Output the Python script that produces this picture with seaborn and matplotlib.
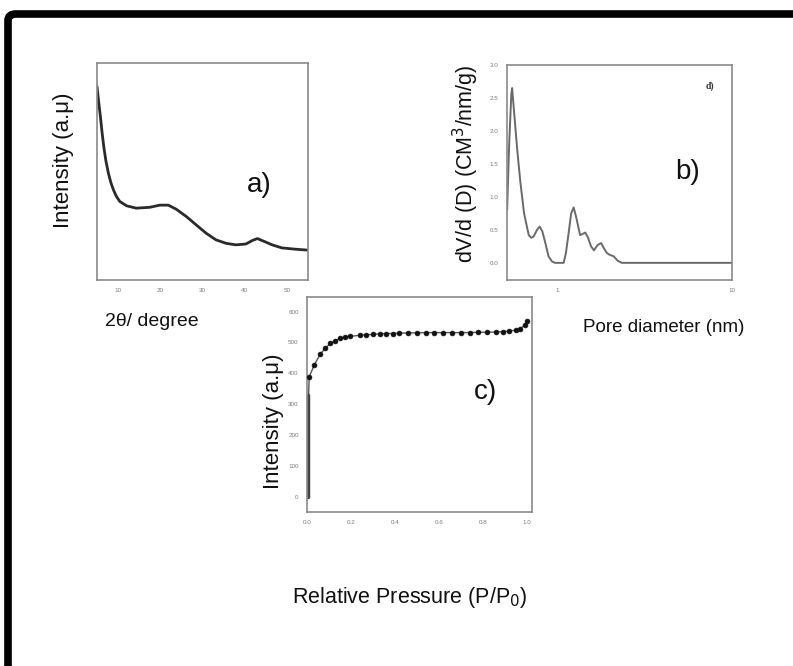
import numpy as np
import pandas as pd
import matplotlib
matplotlib.use("Agg")
import matplotlib.pyplot as plt
import seaborn as sns
from matplotlib.patches import FancyBboxPatch
from matplotlib.ticker import FixedLocator, NullFormatter

# ---------------- data ----------------
# a) XRD pattern
xrd_2theta = [5.0, 5.4, 5.8, 6.2, 6.6, 7.1, 7.7, 8.3, 8.9, 9.6, 10.4, 12.0, 14.3, 17.5, 19.9,
              21.9, 23.8, 26.2, 28.5, 30.9, 33.2, 35.6, 37.9, 40.3, 41.8, 43.0, 44.6, 46.5,
              48.8, 52.0, 54.7]
xrd_intensity = [89.2, 82.0, 75.4, 68.0, 61.5, 55.0, 49.2, 44.8, 41.5, 38.5, 36.2, 34.2, 33.1,
                 33.5, 34.5, 34.5, 32.6, 29.2, 25.4, 21.5, 18.5, 16.9, 16.2, 16.6, 18.2, 19.1,
                 17.8, 16.2, 14.8, 14.2, 13.8]
xrd_ticks = [10, 20, 30, 40, 50]

# b) pore size distribution
pore_d = [0.516, 0.53, 0.545, 0.551, 0.565, 0.59, 0.615, 0.645, 0.686, 0.71, 0.732, 0.765,
          0.792, 0.82, 0.854, 0.89, 0.933, 0.97, 1.087, 1.12, 1.16, 1.20, 1.24, 1.28, 1.35,
          1.40, 1.445, 1.50, 1.56, 1.62, 1.70, 1.78, 1.85, 1.92, 2.0, 2.10, 2.22, 2.34, 10.0]
pore_dv = [0.80, 1.80, 2.55, 2.65, 2.30, 1.70, 1.21, 0.75, 0.42, 0.38, 0.40, 0.50,
           0.55, 0.48, 0.30, 0.10, 0.02, 0.0, 0.0, 0.15, 0.45, 0.75, 0.84, 0.70, 0.42,
           0.44, 0.46, 0.38, 0.25, 0.19, 0.27, 0.30, 0.22, 0.15, 0.12, 0.10, 0.03, 0.0, 0.0]
pore_yticks = [0.0, 0.5, 1.0, 1.5, 2.0, 2.5, 3.0]

# c) N2 isotherm
p_rel = [0.0, 0.0, 0.01, 0.033, 0.06, 0.083, 0.106, 0.129, 0.152, 0.174, 0.197, 0.24,
         0.27, 0.30, 0.33, 0.36, 0.39, 0.42, 0.46, 0.50, 0.54, 0.58, 0.62, 0.66, 0.70,
         0.74, 0.78, 0.82, 0.86, 0.89, 0.92, 0.95, 0.97, 0.99, 1.0]
volume = [0, 330, 389, 427, 462, 481, 497, 506, 514, 518, 520, 523,
          525, 526, 528, 529, 529, 530, 531, 531, 532, 532, 532, 532, 532,
          532, 533, 533, 534, 535, 537, 540, 545, 555, 568]
iso_xticks = [0.0, 0.2, 0.4, 0.6, 0.8, 1.0]
iso_yticks = [0, 100, 200, 300, 400, 500, 600]

# ---------------- style ----------------
sns.set_style("white")
plt.rcParams['font.family'] = ['Liberation Sans', 'DejaVu Sans']

W, H = 793, 666
fig = plt.figure(figsize=(W / 100, H / 100), dpi=100)

def box(l, t, r, b):
    return [l / W, 1 - b / H, (r - l) / W, (b - t) / H]

spine_c = "#8a8a8a"
tick_c = "#8a8a8a"

def style_ax(ax):
    for s in ax.spines.values():
        s.set_color(spine_c)
        s.set_linewidth(1.2)
    ax.tick_params(colors=tick_c, labelcolor="#7a7a7a", labelsize=4.5,
                   length=2.5, width=0.8, direction="out")
    ax.set_xlabel("")
    ax.set_ylabel("")

# ---- a) ----
axa = fig.add_axes(box(97, 63, 308, 280))
sns.lineplot(x=xrd_2theta, y=xrd_intensity, ax=axa, color="#2a2a2a", linewidth=2.0)
axa.set_xlim(5, 55)
axa.set_ylim(0, 100)
axa.set_xticks(xrd_ticks)
axa.xaxis.set_minor_locator(FixedLocator([15, 25, 35, 45]))
axa.set_yticks([])
style_ax(axa)
axa.tick_params(axis="x", which="minor", length=2, color=tick_c)
axa.xaxis.set_minor_formatter(NullFormatter())

# ---- b) ----
axb = fig.add_axes(box(507, 65, 732, 280))
sns.lineplot(x=pore_d, y=pore_dv, ax=axb, color="#6a6a6a", linewidth=1.4)
axb.set_xscale("log")
axb.set_xlim(0.515, 10)
axb.set_ylim(-0.26, 3.0)
axb.set_yticks(pore_yticks)
axb.set_yticklabels([f"{v:.1f}" for v in pore_yticks])
axb.set_xticks([1, 10])
axb.set_xticklabels(["1", "10"])
axb.xaxis.set_minor_locator(FixedLocator([0.6, 0.7, 0.8, 0.9, 2, 3, 4, 5, 6, 7, 8, 9]))
axb.xaxis.set_minor_formatter(NullFormatter())
style_ax(axb)
axb.tick_params(axis="x", which="minor", length=2, color=tick_c)
axb.text(0.9, 0.9, "d)", transform=axb.transAxes, fontsize=7, fontweight="bold",
         family="Liberation Serif", color="#333333", ha="center", va="center")

# ---- c) ----
axc = fig.add_axes(box(307, 297, 532, 512))
sns.lineplot(x=p_rel, y=volume, ax=axc, color="#555555", linewidth=1.0)
axc.plot([0.003, 0.003], [0, 330], color="#444444", linewidth=2.5)
sns.scatterplot(x=p_rel[2:], y=volume[2:], ax=axc, color="#111111", s=12,
                edgecolor="#111111", linewidth=0.5, zorder=3)
axc.set_xlim(0, 1.024)
axc.set_ylim(-48, 647)
axc.set_xticks(iso_xticks)
axc.set_xticklabels([f"{v:.1f}" for v in iso_xticks])
axc.set_yticks(iso_yticks)
axc.xaxis.set_minor_locator(FixedLocator([0.1, 0.3, 0.5, 0.7, 0.9]))
axc.yaxis.set_minor_locator(FixedLocator([50, 150, 250, 350, 450, 550]))
axc.xaxis.set_minor_formatter(NullFormatter())
axc.yaxis.set_minor_formatter(NullFormatter())
style_ax(axc)
axc.tick_params(which="minor", length=2, color=tick_c)

# ---- texts ----
def ftext(x, y, s, **kw):
    fig.text(x / W, 1 - y / H, s, **kw)

base = dict(color="#111111", ha="center", va="center")
ftext(64, 160, "Intensity (a.μ)", rotation=90, fontsize=16, **base)
ftext(152, 322, "2θ/ degree", fontsize=14, **base)
ftext(259, 185, "a)", fontsize=20, **base)
ftext(466, 164, "dV/d (D) (CM$^3$/nm/g)", rotation=90, fontsize=15.5, **base)
ftext(664, 327, "Pore diameter (nm)", fontsize=13.5, **base)
ftext(688, 172, "b)", fontsize=20, **base)
ftext(273, 421, "Intensity (a.μ)", rotation=90, fontsize=16, **base)
ftext(486, 392, "c)", fontsize=20, **base)
ftext(410, 598, "Relative Pressure (P/P$_0$)", fontsize=15.5, **base)

# ---- thick border ----
border = FancyBboxPatch((8 / W, -0.2), 1.2, 1 - 14 / H + 0.2,
                        boxstyle="round,pad=0,rounding_size=0.01",
                        transform=fig.transFigure, fill=False,
                        edgecolor="black", linewidth=5.5, clip_on=False)
fig.patches.append(border)

fig.savefig("out.png", dpi=100)
